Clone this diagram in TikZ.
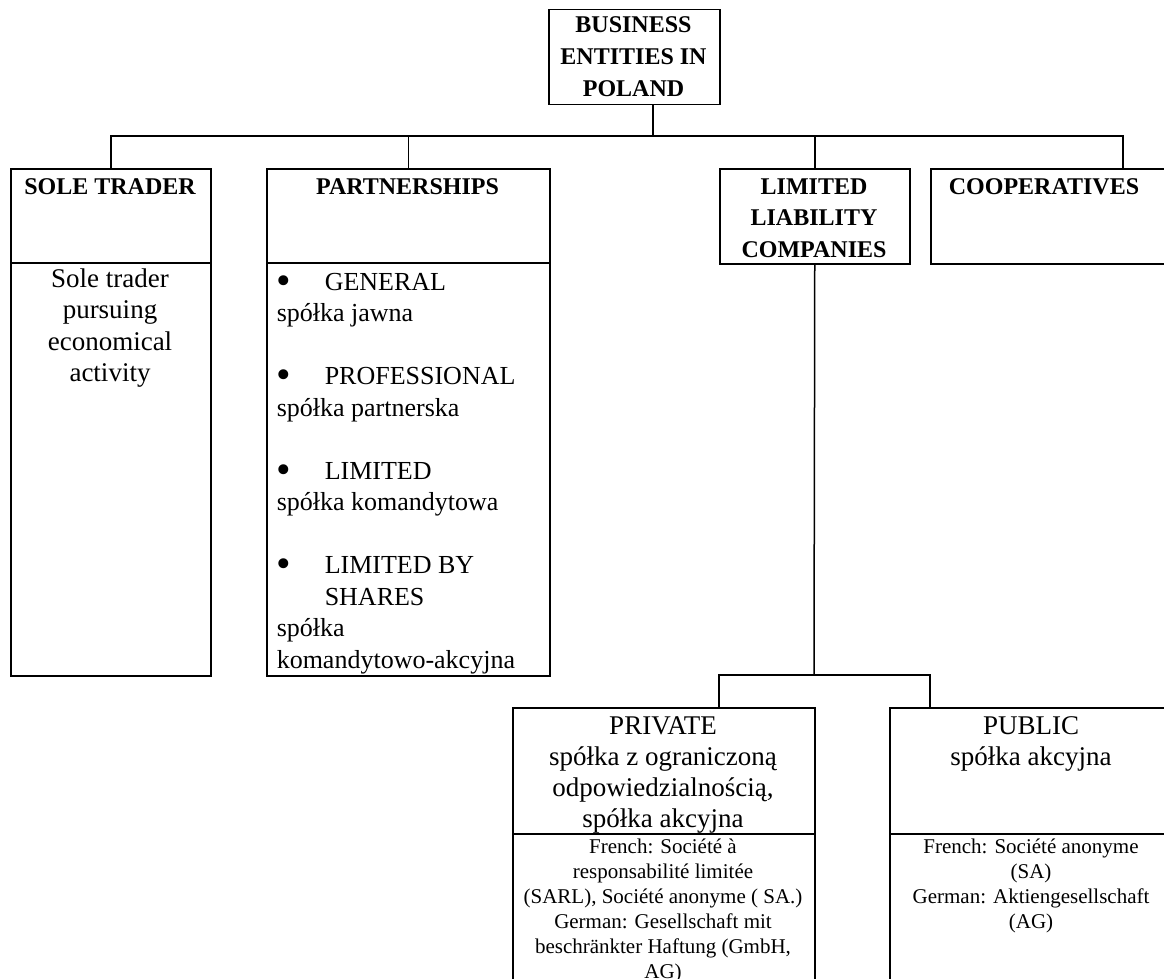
\documentclass[tikz,border=0pt]{standalone}
\usepackage{fontspec}
\setmainfont{Liberation Serif}
\newcommand{\bulletitem}{\makebox[48pt][l]{\raisebox{-0.17em}{\scalebox{1.6}{\textbullet}}}}
\begin{document}
\begin{tikzpicture}[x=1pt,y=-1pt,line width=1.5pt,
        box/.style={draw,rectangle,inner sep=0pt,anchor=north west},
        head/.style={font=\fontsize{24}{31.5}\selectfont\bfseries,align=center,anchor=base,inner sep=0pt},
        body/.style={font=\fontsize{27}{31.5}\selectfont,align=center,anchor=base,inner sep=0pt},
        small/.style={font=\fontsize{21}{25}\selectfont,align=center,anchor=base,inner sep=0pt}]
    \path[use as bounding box,clip] (0,0) rectangle (1164,979);
    % boxes
    \node[box,minimum width=171pt,minimum height=95pt] (ent) at (548,9) {};
    \node[box,minimum width=200pt,minimum height=94pt] (sole) at (10,168) {};
    \node[box,minimum width=200pt,minimum height=413pt] (solebody) at (10,262) {};
    \node[box,minimum width=283pt,minimum height=94pt] (part) at (266,168) {};
    \node[box,minimum width=283pt,minimum height=413pt] (partbody) at (266,262) {};
    \node[box,minimum width=190pt,minimum height=95pt] (llc) at (719,168) {};
    \node[box,minimum width=384pt,minimum height=95pt] (coop) at (930,168) {};
    \node[box,minimum width=302pt,minimum height=126pt] (priv) at (512,707) {};
    \node[box,minimum width=302pt,minimum height=200pt] (privbody) at (512,833) {};
    \node[box,minimum width=284pt,minimum height=126pt] (pub) at (889,707) {};
    \node[box,minimum width=284pt,minimum height=200pt] (pubbody) at (889,833) {};
    % connectors
    \coordinate (bus) at (653,136);
    \draw (ent.south -| bus) -- (bus);
    \draw (sole.north) |- (bus) -| (coop.north);
    \draw (part.north) -- (part.north |- bus);
    \draw (llc.north) -- (llc.north |- bus);
    \coordinate (sub) at (814,675);
    \coordinate (privstem) at (719,707);
    \coordinate (pubstem) at (930,707);
    \draw (llc.south) -- (sub);
    \draw (privstem) |- (sub) -| (pubstem);
    % texts (anchored on the baseline of the last line)
    \node[head,font=\fontsize{24}{32}\selectfont\bfseries] (enttext) at (633.5,97) {BUSINESS\\ENTITIES IN\\POLAND};
    \node[head] (soletext) at (110,194) {SOLE TRADER};
    \node[head] (parttext) at (407.5,194) {PARTNERSHIPS};
    \node[head] (llctext) at (814,257) {LIMITED\\LIABILITY\\COMPANIES};
    \node[head] (cooptext) at (1044,194) {COOPERATIVES};
    \node[body] (solebodytext) at (110,381.5) {Sole trader\\pursuing\\economical\\activity};
    \node[body,font=\fontsize{26}{31.5}\selectfont,align=left,anchor=base west] (partbodytext) at (276,668)
        {\bulletitem GENERAL\\spółka jawna\\[31.5pt]
         \bulletitem PROFESSIONAL\\spółka partnerska\\[31.5pt]
         \bulletitem LIMITED\\spółka komandytowa\\[31.5pt]
         \bulletitem LIMITED BY\\\hspace*{48pt}SHARES\\spółka\\komandytowo-akcyjna};
    \node[body,font=\fontsize{27}{31}\selectfont] (privtext) at (663,827) {PRIVATE\\spółka z ograniczoną\\odpowiedzialnością,\\spółka akcyjna};
    \node[body,font=\fontsize{27}{31}\selectfont] (pubtext) at (1031,765) {PUBLIC\\spółka akcyjna};
    \node[small] (privbodytext) at (663,978) {French: Société à\\responsabilité limitée\\(SARL), Société anonyme ( SA.)\\German: Gesellschaft mit\\beschränkter Haftung (GmbH,\\AG)};
    \node[small] (pubbodytext) at (1031,928) {French: Société anonyme\\(SA)\\German: Aktiengesellschaft\\(AG)};
\end{tikzpicture}
\end{document}
